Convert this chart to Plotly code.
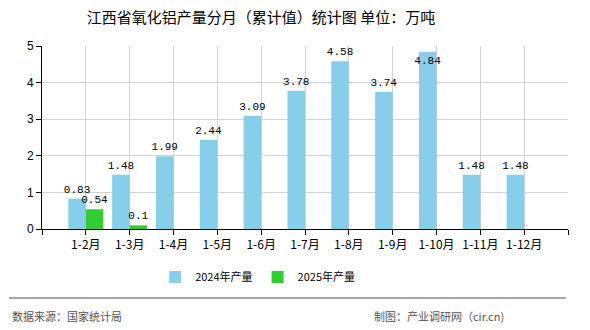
import plotly.graph_objects as go

# Data: cumulative monthly alumina output, Jiangxi (10k tonnes)
categories = ["1-2月", "1-3月", "1-4月", "1-5月", "1-6月", "1-7月",
              "1-8月", "1-9月", "1-10月", "1-11月", "1-12月"]
values_2024 = [0.83, 1.48, 1.99, 2.44, 3.09, 3.78, 4.58, 3.74, 4.84, 1.48, 1.48]
values_2025 = [0.54, 0.1]
y_ticks = [0, 1, 2, 3, 4, 5]

label_font = dict(family="Liberation Mono, DejaVu Sans Mono, monospace", size=11, color="#000")
cjk = "Noto Sans CJK SC, sans-serif"

x24 = list(range(len(values_2024)))
x25 = list(range(len(values_2025)))

# the tallest bar keeps its label inside the plot area
pos24 = ["inside" if v >= 4.7 else "outside" for v in values_2024]

fig = go.Figure()
fig.add_trace(go.Bar(
    x=x24, y=values_2024, name="2024年产量",
    marker=dict(color="#87CEEB", line=dict(width=0)),
    text=[f"{v:g}" for v in values_2024], textposition=pos24,
    insidetextanchor="end", textangle=0, constraintext="none",
    textfont=label_font, insidetextfont=label_font, outsidetextfont=label_font,
    cliponaxis=False,
))
fig.add_trace(go.Bar(
    x=x25, y=values_2025, name="2025年产量",
    marker=dict(color="#32CD32", line=dict(width=0)),
    text=[f"{v:g}" for v in values_2025], textposition="outside", textangle=0,
    constraintext="none",
    textfont=label_font, outsidetextfont=label_font,
    cliponaxis=False,
))

fig.update_layout(
    width=590, height=330,
    margin=dict(l=42, r=22, t=46, b=101),
    paper_bgcolor="white", plot_bgcolor="white",
    barmode="group", bargap=0.2, bargroupgap=0,
    title=dict(text="江西省氧化铝产量分月（累计值）统计图 单位：万吨",
               x=261 / 590, xanchor="center", y=1 - 18 / 330, yanchor="middle",
               font=dict(family=cjk, size=15, color="#000")),
    legend=dict(orientation="h", x=0.41, xanchor="center", y=-0.262, yanchor="middle",
                font=dict(family=cjk, size=11, color="#000"),
                itemwidth=30, tracegroupgap=0),
    font=dict(family=cjk, size=12, color="#000"),
    showlegend=True,
)

fig.update_xaxes(
    range=[-1, len(categories)],
    tickmode="array",
    tickvals=list(range(-1, len(categories) + 1)),
    ticktext=[""] + categories + [""],
    showgrid=True, gridcolor="#d3d3d3", gridwidth=1,
    showline=True, linecolor="#000", linewidth=1,
    ticks="outside", ticklen=5, tickcolor="#000",
    tickfont=dict(family=cjk, size=12, color="#000"),
    zeroline=False,
)
fig.update_yaxes(
    range=[0, 5], tickvals=y_ticks,
    showgrid=True, gridcolor="#d3d3d3", gridwidth=1,
    showline=True, linecolor="#000", linewidth=1,
    ticks="outside", ticklen=5, tickcolor="#000",
    tickfont=dict(family="Liberation Sans, sans-serif", size=12, color="#000"),
    zeroline=False,
)

# footer separator and source notes
fig.add_shape(type="line", xref="paper", yref="paper",
              x0=-0.0627, x1=0.996, y0=-0.377, y1=-0.377,
              line=dict(color="#888", width=1.5))
fig.add_annotation(text="数据来源：国家统计局", xref="paper", yref="paper",
                   x=-0.06, y=-0.475, xanchor="left", yanchor="middle", showarrow=False,
                   font=dict(family=cjk, size=11, color="#555"))
fig.add_annotation(text="制图：产业调研网（cir.cn)", xref="paper", yref="paper",
                   x=0.882, y=-0.475, xanchor="right", yanchor="middle", showarrow=False,
                   font=dict(family=cjk, size=11, color="#555"))

fig.write_html("out.html")
